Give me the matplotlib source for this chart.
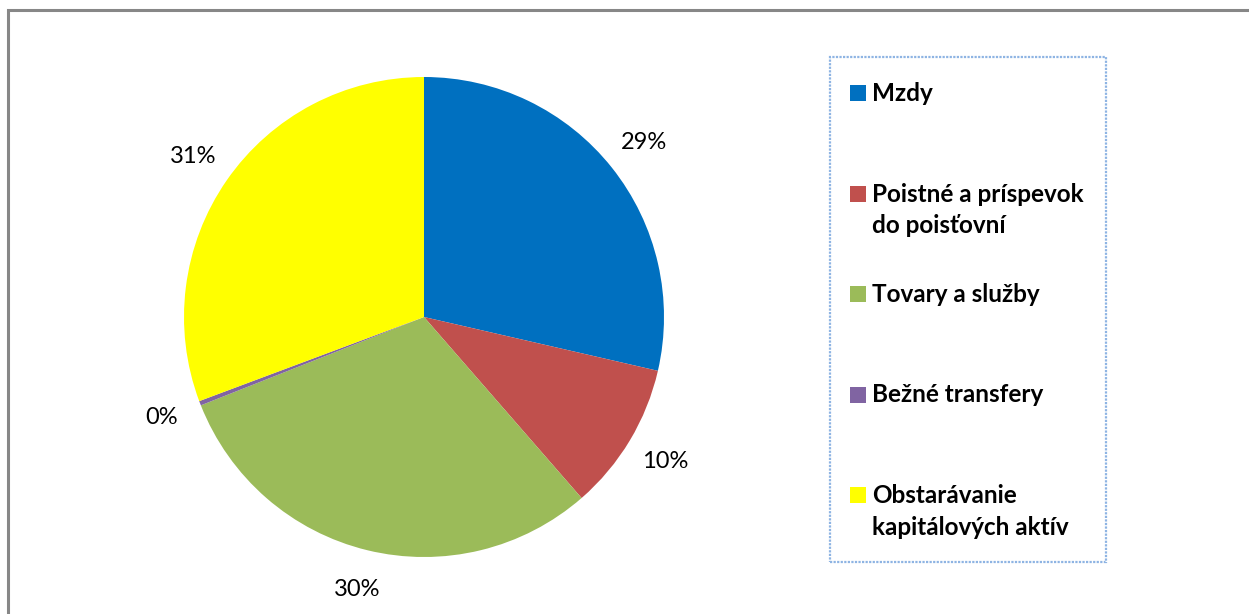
import matplotlib
matplotlib.use("Agg")
import matplotlib.pyplot as plt
from matplotlib.patches import Rectangle

plt.rcParams['font.family'] = ['Lato', 'DejaVu Sans']

# podiel jednotlivych polozok vydavkov (%)
kategorie = ['Mzdy', 'Poistné a príspevok\ndo poisťovní', 'Tovary a služby',
             'Bežné transfery', 'Obstarávanie\nkapitálových aktív']
podiel = [28.6, 10.0, 30.4, 0.3, 30.7]
farby = ['#0070C0', '#C0504D', '#9BBB59', '#8064A2', '#FFFF00']

W, H = 1249, 614
fig = plt.figure(figsize=(W / 100, H / 100), dpi=100)

# sivy ramcek grafu
fig.patches.append(Rectangle((8 / W, -0.1), 1.2, 1 - 10 / H + 0.1, transform=fig.transFigure,
                             fill=False, edgecolor='#878787', lw=2.2))

ax = fig.add_axes([184 / W, (H - 557) / H, 480 / W, 480 / H])
ax.pie(podiel, colors=farby, startangle=90, counterclock=False, radius=1,
       autopct=lambda p: '%.0f%%' % p, pctdistance=1.17,
       textprops=dict(fontsize=17, color='black'))
ax.set_xlim(-1, 1)
ax.set_ylim(-1, 1)
ax.set_aspect('equal')
ax.axis('off')

# legenda
fig.patches.append(Rectangle((830 / W, (H - 562) / H), 276 / W, 505 / H,
                             transform=fig.transFigure, fill=False,
                             edgecolor='#8EB4E3', lw=1.6, linestyle=(0, (1, 0.6))))
for i, (k, f) in enumerate(zip(kategorie, farby)):
    y = 93 + i * 100.5
    fig.patches.append(Rectangle((850 / W, (H - y - 8) / H), 16 / W, 16 / H,
                                 transform=fig.transFigure, facecolor=f, edgecolor='none'))
    fig.text(872 / W, (H - y + 11) / H, k, fontsize=17.5, fontweight='bold',
             va='top', ha='left', linespacing=1.45)

fig.savefig('out.png', dpi=100)
